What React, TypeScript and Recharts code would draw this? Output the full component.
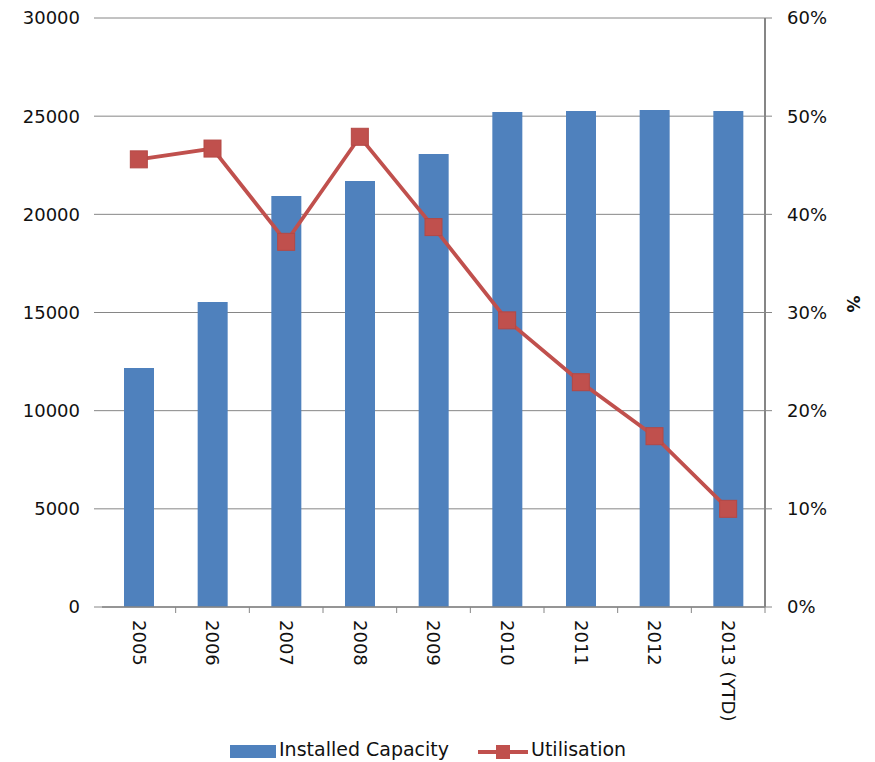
import { ComposedChart, Bar, Line, XAxis, YAxis, CartesianGrid, Legend } from 'recharts';

const years = ['2005', '2006', '2007', '2008', '2009', '2010', '2011', '2012', '2013 (YTD)'];
const installedCapacity = [12170, 15530, 20930, 21700, 23070, 25210, 25260, 25310, 25260];
const utilisation = [45.6, 46.7, 37.2, 47.9, 38.7, 29.2, 22.9, 17.4, 10.0];
const capacityTicks = [0, 5000, 10000, 15000, 20000, 25000, 30000];
const utilisationTicks = [0, 10, 20, 30, 40, 50, 60];
const seriesNames = ['Installed Capacity', 'Utilisation'];

const data = years.map((year, i) => ({
    year,
    capacity: installedCapacity[i],
    utilisation: utilisation[i],
}));

const BLUE = '#4F81BD';
const RED = '#C0504D';
const GREY = '#868686';
const FONT = '"DejaVu Sans", Verdana, sans-serif';

const W = 875;
const H = 762;
const LEFT = 102;
const RIGHT = 110;
const HALF_BAND = (W - LEFT - RIGHT) / years.length / 2;

const YearTick = (props: any) => {
    const { x, y, payload, index } = props;
    return (
        <g>
            {index > 0 && <line x1={x - HALF_BAND} x2={x - HALF_BAND} y1={y} y2={y + 6} stroke={GREY} />}
            {index === years.length - 1 && (
                <line x1={x + HALF_BAND} x2={x + HALF_BAND} y1={y} y2={y + 6} stroke={GREY} />
            )}
            <text
                transform={`translate(${x},${y + 13}) rotate(90)`}
                dy="0.35em"
                textAnchor="start"
                fontFamily={FONT}
                fontSize={18}
                fill="#111"
            >
                {payload.value}
            </text>
        </g>
    );
};

const SquareDot = (props: any) => {
    const { cx, cy, index } = props;
    return (
        <rect key={`dot-${index}`} x={cx - 8.5} y={cy - 8.5} width={17} height={17}
            fill={RED} stroke="#B44845" strokeWidth={1} />
    );
};

const renderLegend = () => (
    <div style={{ position: 'relative', width: W, height: 28, fontFamily: FONT, fontSize: 19, color: '#111' }}>
        <span style={{ position: 'absolute', left: 230, top: 11, width: 46, height: 13, background: BLUE }} />
        <span style={{ position: 'absolute', left: 279, top: 4 }}>{seriesNames[0]}</span>
        <span style={{ position: 'absolute', left: 478, top: 16, width: 50, height: 4, background: RED }} />
        <span style={{ position: 'absolute', left: 496, top: 11, width: 14, height: 14, background: RED }} />
        <span style={{ position: 'absolute', left: 531, top: 4 }}>{seriesNames[1]}</span>
    </div>
);

export default function App() {
    return (
        <div style={{ position: 'absolute', left: 0, top: 0 }}>
            <ComposedChart width={W} height={H} data={data} margin={{ top: 18, right: 0, bottom: 0, left: 0 }}>
                <CartesianGrid horizontal vertical={false} stroke={GREY} yAxisId="left" />
                <XAxis
                    dataKey="year"
                    interval={0}
                    height={127}
                    tickSize={0}
                    tickMargin={0}
                    tickLine={false}
                    axisLine={{ stroke: GREY, strokeWidth: 1.5 }}
                    tick={<YearTick />}
                />
                <YAxis
                    yAxisId="left"
                    width={LEFT}
                    domain={[0, 30000]}
                    ticks={capacityTicks}
                    axisLine={false}
                    tickLine={{ stroke: GREY }}
                    tickSize={8}
                    tickMargin={14}
                    tick={{ fontFamily: FONT, fontSize: 18, fill: '#111' }}
                />
                <YAxis
                    yAxisId="right"
                    orientation="right"
                    width={RIGHT}
                    domain={[0, 60]}
                    ticks={utilisationTicks}
                    tickFormatter={(v: number) => `${v}%`}
                    axisLine={{ stroke: GREY, strokeWidth: 2 }}
                    tickLine={{ stroke: GREY }}
                    tickSize={7}
                    tickMargin={15}
                    tick={{ fontFamily: FONT, fontSize: 18, fill: '#111' }}
                    label={{
                        value: '%', angle: 90, position: 'insideRight', offset: 22,
                        style: { fontFamily: FONT, fontSize: 17, fontWeight: 'bold', fill: '#111' },
                    }}
                />
                <Bar yAxisId="left" dataKey="capacity" name={seriesNames[0]} fill={BLUE} barSize={30}
                    isAnimationActive={false} />
                <Line yAxisId="right" type="linear" dataKey="utilisation" name={seriesNames[1]} stroke={RED}
                    strokeWidth={3.8} dot={<SquareDot />} activeDot={false} isAnimationActive={false} />
                <Legend verticalAlign="bottom" content={renderLegend} wrapperStyle={{ left: 0, width: W }} />
            </ComposedChart>
        </div>
    );
}
